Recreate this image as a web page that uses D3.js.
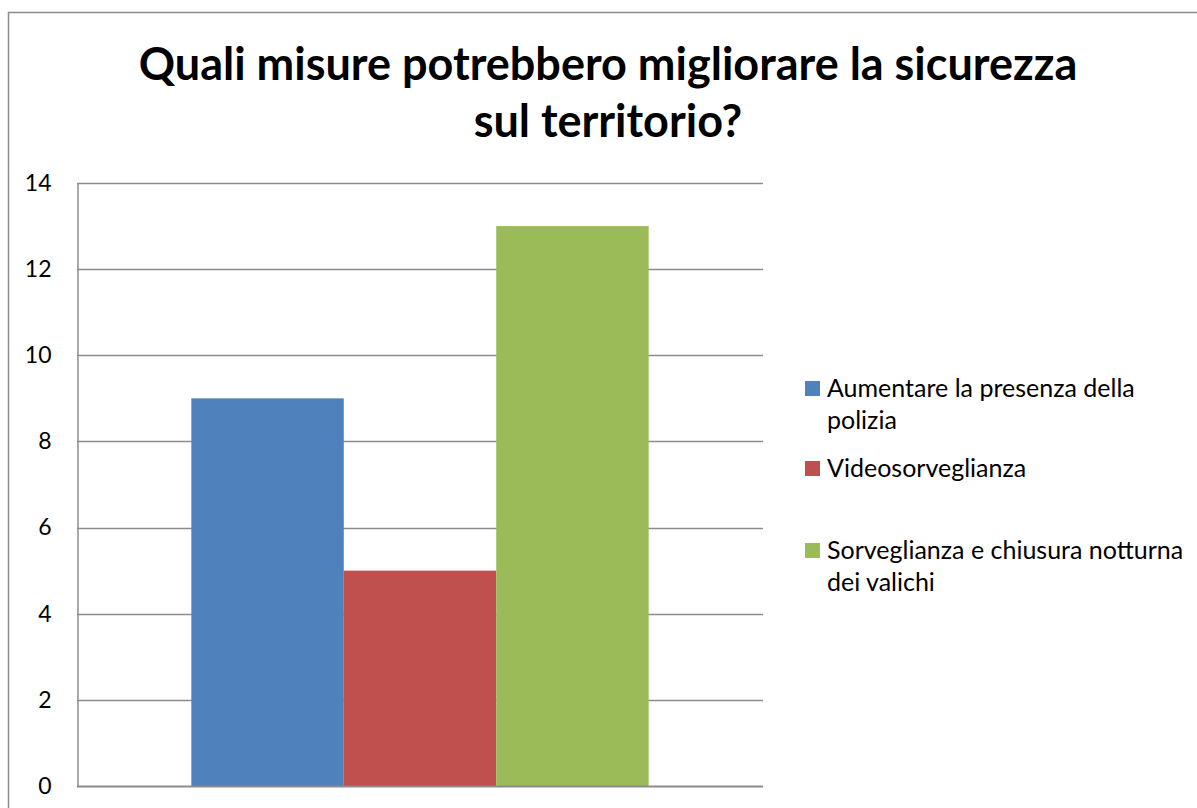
<!DOCTYPE html>
<html lang="it">
<head>
  <meta charset="UTF-8" />
  <title>Quali misure potrebbero migliorare la sicurezza sul territorio?</title>
  <style>
    body { margin: 0; background: #fff; }
    svg { display: block; }
    text { font-family: Lato, "Open Sans", sans-serif; fill: #000; }
  </style>
  <script src="https://cdn.jsdelivr.net/npm/d3@7"></script>
</head>
<body>
  <script>
    const titleLines = ["Quali misure potrebbero migliorare la sicurezza", "sul territorio?"];
    const categories = [""];
    const seriesNames = [
      "Aumentare la presenza della polizia",
      "Videosorveglianza",
      "Sorveglianza e chiusura notturna dei valichi"
    ];
    const legendLines = [
      ["Aumentare la presenza della", "polizia"],
      ["Videosorveglianza"],
      ["Sorveglianza e chiusura notturna", "dei valichi"]
    ];
    const seriesValues = [9, 5, 13];
    const seriesColors = ["#4F81BD", "#C0504D", "#9BBB59"];
    const yTicks = [0, 2, 4, 6, 8, 10, 12, 14];

    const width = 1197, height = 808;
    const plot = { left: 77, right: 763, top: 183, bottom: 786 };

    const svg = d3.select("body").append("svg")
      .attr("width", width)
      .attr("height", height);

    // chart area border (runs off the right and bottom edge)
    svg.append("rect")
      .attr("x", 8.5).attr("y", 12.5)
      .attr("width", 1220).attr("height", 820)
      .attr("fill", "#fff")
      .attr("stroke", "#8c8c8c")
      .attr("stroke-width", 1.5);

    // title
    const title = svg.append("text")
      .attr("text-anchor", "middle")
      .style("font-weight", "bold")
      .style("font-size", "45px");
    title.selectAll("tspan")
      .data(titleLines)
      .enter().append("tspan")
      .attr("x", 608)
      .attr("y", (d, i) => 80 + i * 57)
      .text(d => d);

    const y = d3.scaleLinear().domain([0, 14]).range([plot.bottom, plot.top]);
    const x0 = d3.scaleBand().domain(categories)
      .range([plot.left, plot.right])
      .paddingOuter(0.25).paddingInner(0);
    const x1 = d3.scaleBand().domain(seriesNames).range([0, x0.bandwidth()]);

    // gridlines
    svg.append("g")
      .selectAll("line")
      .data(yTicks.filter(d => d > 0))
      .enter().append("line")
      .attr("x1", plot.left).attr("x2", plot.right)
      .attr("y1", d => Math.round(y(d)) + 0.5)
      .attr("y2", d => Math.round(y(d)) + 0.5)
      .attr("stroke", "#8c8c8c")
      .attr("stroke-width", 1.5);

    // bars
    svg.append("g")
      .selectAll("g")
      .data(categories)
      .enter().append("g")
      .attr("transform", d => `translate(${x0(d)},0)`)
      .selectAll("rect")
      .data(() => seriesNames.map((s, i) => ({ s, v: seriesValues[i], c: seriesColors[i] })))
      .enter().append("rect")
      .attr("x", d => x1(d.s))
      .attr("width", x1.bandwidth())
      .attr("y", d => y(d.v))
      .attr("height", d => y(0) - y(d.v))
      .attr("fill", d => d.c);

    // y axis
    const yAxis = svg.append("g")
      .attr("transform", `translate(${plot.left + 0.5},0)`)
      .call(d3.axisLeft(y).tickValues(yTicks).tickSize(0).tickPadding(26));
    yAxis.select(".domain").attr("stroke", "#8c8c8c").attr("stroke-width", 1.5);
    yAxis.selectAll("text")
      .style("font-family", "Lato, 'Open Sans', sans-serif")
      .style("font-size", "23px")
      .attr("fill", "#000");

    // x axis (no labels)
    svg.append("line")
      .attr("x1", plot.left).attr("x2", plot.right)
      .attr("y1", plot.bottom + 0.5).attr("y2", plot.bottom + 0.5)
      .attr("stroke", "#8c8c8c")
      .attr("stroke-width", 2);

    // legend
    const legendTop = [388, 468, 550];
    const legend = svg.append("g");
    const item = legend.selectAll("g")
      .data(legendLines)
      .enter().append("g")
      .attr("transform", (d, i) => `translate(805,${legendTop[i]})`);
    item.append("rect")
      .attr("x", 0).attr("y", -7)
      .attr("width", 15).attr("height", 15)
      .attr("fill", (d, i) => seriesColors[i]);
    item.append("text")
      .style("font-size", "25px")
      .selectAll("tspan")
      .data(d => d)
      .enter().append("tspan")
      .attr("x", 22)
      .attr("y", (d, i) => 9 + i * 32)
      .text(d => d);
  </script>
</body>
</html>
